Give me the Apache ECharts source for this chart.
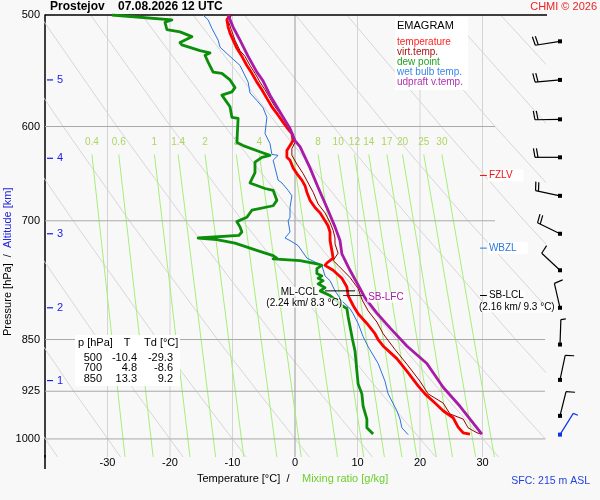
<!DOCTYPE html>
<html>
<head>
<meta charset="utf-8">
<script src="https://cdn.jsdelivr.net/npm/echarts@6/dist/echarts.min.js"></script>
<style>
  html, body { margin: 0; padding: 0; background: #f8f8f8; }
  #chart { width: 600px; height: 500px; }
</style>
</head>
<body>
<div id="chart"></div>
<script>
// Emagram, Prostejov 07.08.2026 12 UTC. Profiles are [pressure hPa, temperature °C].
const pLevels = [500, 600, 700, 850, 925, 1000];
const isoT = [-30, -20, -10, 0, 10, 20, 30];

const temperature = [[500,-10.4],[504,-10.9],[510,-10.7],[515,-10.4],[521,-9.9],[528,-9.3],[535,-8.5],[543,-7.7],[550,-6.9],[558,-6.1],[565,-5.3],[573,-4.5],[581,-3.7],[589,-2.7],[596,-1.9],[601,-1.3],[607,-0.5],[614,-0.3],[619,-0.8],[624,-1.3],[631,-1.3],[634,-0.8],[642,-0.3],[650,0.5],[655,1.1],[661,1.6],[668,1.9],[677,2.4],[685,3.2],[691,4.0],[700,4.8],[706,5.3],[713,5.6],[723,5.6],[735,5.9],[744,6.1],[750,5.1],[753,4.8],[759,6.1],[769,7.5],[780,8.3],[791,8.5],[804,9.3],[815,10.1],[828,11.5],[842,12.8],[850,13.3],[859,14.1],[877,16.3],[895,17.9],[917,19.7],[929,20.8],[943,22.4],[955,23.7],[966,25.3],[981,26.1],[990,26.9],[992,28.0]];

const virtTemp = [[500,-10.2],[506,-10.6],[512,-10.2],[521,-9.6],[530,-8.8],[535,-8.0],[543,-7.2],[550,-6.4],[558,-5.6],[565,-4.8],[573,-4.0],[581,-3.2],[589,-2.2],[596,-1.4],[601,-0.8],[609,-0.3],[616,0.0],[622,-0.5],[629,-0.5],[638,0.3],[648,1.3],[658,2.1],[668,2.9],[681,3.7],[691,4.8],[702,5.6],[711,6.1],[720,6.4],[727,6.4],[738,6.9],[747,6.1],[753,6.9],[768,8.8],[782,10.1],[796,10.7],[811,11.7],[826,13.1],[842,14.1],[864,16.0],[885,17.9],[910,20.0],[929,21.3],[943,23.7],[960,24.8],[968,26.9],[982,27.7],[990,29.1],[992,29.9]];

const dewPoint = [[500,-29.3],[504,-19.7],[506,-20.8],[512,-20.5],[514,-18.4],[518,-16.5],[523,-18.4],[525,-18.1],[530,-15.2],[532,-13.6],[534,-14.4],[540,-13.9],[549,-13.1],[550,-11.7],[556,-10.4],[563,-9.6],[567,-10.1],[570,-11.7],[581,-10.4],[591,-10.1],[592,-9.1],[616,-9.3],[619,-8.3],[626,-5.3],[629,-4.0],[631,-5.3],[636,-6.4],[647,-6.4],[658,-7.2],[664,-4.8],[666,-3.5],[677,-2.9],[683,-3.5],[688,-6.9],[696,-7.7],[701,-9.3],[707,-8.8],[713,-8.5],[717,-9.0],[720,-15.5],[722,-12.5],[726,-9.6],[735,-6.0],[741,-3.5],[744,-2.9],[745,-3.5],[747,0.8],[751,3.5],[753,4.3],[757,3.5],[763,3.5],[766,4.3],[769,3.7],[772,4.5],[776,3.7],[781,4.8],[785,4.0],[791,5.6],[798,6.7],[804,7.5],[808,8.3],[819,8.5],[832,8.8],[850,9.2],[866,9.6],[895,9.9],[914,10.1],[929,10.7],[948,10.9],[968,11.5],[982,11.5],[992,12.5]];

const wetBulb = [[500,-14.7],[504,-13.9],[511,-13.3],[521,-12.3],[527,-12.0],[535,-10.4],[543,-8.8],[558,-7.5],[568,-7.2],[575,-6.1],[582,-5.1],[591,-4.5],[607,-4.8],[617,-4.0],[628,-3.7],[629,-2.7],[634,-3.5],[655,-2.7],[658,-2.1],[666,-1.1],[672,-0.5],[685,-0.8],[696,-0.8],[700,-1.1],[713,-0.8],[720,-1.6],[723,-0.8],[729,0.5],[744,1.9],[750,3.5],[753,4.3],[766,4.8],[772,5.6],[785,6.4],[798,7.5],[808,8.8],[815,9.3],[828,10.1],[846,10.9],[860,11.7],[884,13.3],[910,14.4],[929,14.9],[955,16.3],[968,16.8],[982,17.1],[993,18.1]];

const updraft = [[500,-10.7],[510,-9.9],[521,-8.8],[535,-7.5],[549,-6.1],[557,-5.1],[570,-4.0],[581,-2.9],[591,-1.9],[602,-0.8],[614,0.0],[620,0.8],[642,2.4],[663,3.7],[685,5.1],[707,6.4],[723,7.2],[739,7.5],[759,8.8],[782,10.4],[794,11.2],[814,13.1],[834,15.2],[859,17.9],[884,21.1],[919,23.7],[948,26.4],[992,29.9]];

// dry adiabats: temperature at adiabatP levels, one row per line
const adiabatP = [1030, 925, 850, 700, 600, 500];
const adiabatT = [
  [-38.0,-45.1,-50.6,-62.6,-71.7,-81.9],
  [-27.9,-35.4,-41.0,-53.6,-63.0,-73.7],
  [-17.9,-25.6,-31.5,-44.6,-54.4,-65.5],
  [-7.8,-15.8,-22.0,-35.5,-45.8,-57.3],
  [2.3,-6.0,-12.4,-26.5,-37.1,-49.1],
  [12.4,3.8,-2.9,-17.5,-28.5,-40.9],
  [22.5,13.5,6.7,-8.4,-19.9,-32.7],
  [32.6,23.3,16.2,0.6,-11.2,-24.5],
  [42.7,33.1,25.8,9.6,-2.6,-16.3],
  [52.7,42.9,35.3,18.7,6.1,-8.1],
  [62.8,52.7,44.9,27.7,14.7,0.1],
  [72.9,62.4,54.4,36.7,23.4,8.3],
  [83.0,72.2,64.0,45.7,32.0,16.5],
  [93.1,82.0,73.5,54.8,40.6,24.7],
  [103.1,91.8,83.1,63.8,49.3,32.9]
];

// saturation mixing ratio lines [g/kg]: temperature at top (628 hPa) and bottom (1030 hPa)
const mixW = [0.4, 0.6, 1, 1.4, 2, 3, 4, 6, 8, 10, 12, 14, 17, 20, 25, 30];
const mixTopT = [-32.5,-28.2,-22.5,-18.7,-14.4,-9.4,-5.7,-0.3,3.7,6.9,9.5,11.8,14.7,17.2,20.6,23.5];
const mixBotT = [-27.2,-22.7,-16.8,-12.7,-8.2,-2.9,1.0,6.8,11.0,14.3,17.1,19.5,22.6,25.2,28.9,31.9];
const mixTopP = 628, mixBotP = 1030, mixLabelP = 616;

// altitude marks [km] and their pressure
const altKm = [1, 2, 3, 4, 5];
const altP = [909, 807, 715, 632, 556];

// wind profile
const windP = [522, 556, 593, 631, 672, 715, 759, 807, 857, 908, 963, 993];
const windDir = [261, 265, 269, 270, 282, 296, 313, 347, 2, 12, 14, 32];
const windKt = [20, 20, 20, 20, 20, 20, 10, 10, 5, 10, 10, 5];

// level annotations
const annText = ['FZLV', 'WBZL', 'SB-LCL', 'ML-CCL', 'SB-LFC'];
const annSub = ['', '', '(2.16 km/ 9.3 °C)', '(2.24 km/ 8.3 °C)', ''];
const annP = [650, 732, 791, 785, 791];
const annT0 = [29.6, 29.6, 29.6, 4.8, 7.7];
const annT1 = [30.7, 30.7, 30.7, 9.6, 10.9];

// table
const tableP = [500, 700, 850];
const tableT = [-10.4, 4.8, 13.3];
const tableTd = [-29.3, -8.6, 9.2];

const legendNames = ['temperature', 'virt.temp.', 'dew point', 'wet bulb temp.', 'udpraft v.temp.'];

const FONT = '"Liberation Sans", Arial, Helvetica, sans-serif';
const C = {
  temp: '#ff0000', virt: '#990000', dew: '#0b8f0b', wet: '#2a72dd', upd: '#a81aa8',
  mix: '#a5ef78', mixLabel: '#9acd3a', adiabat: '#d2d2d2', iso: '#d4d4d4', press: '#a9a9a9',
  alt: '#1a1aee'
};

const chart = echarts.init(document.getElementById('chart'), null, { renderer: 'canvas' });

function bgLine(data, color, width, extra) {
  return Object.assign({
    type: 'line', data, symbol: 'none', silent: true, z: 1,
    lineStyle: { color, width }, animation: false
  }, extra || {});
}

function profile(name, pts, color, width, z) {
  return {
    type: 'line', name, data: pts.map(d => [d[1], d[0]]), symbol: 'none', silent: true,
    z, lineStyle: { color, width, join: 'round' }, animation: false
  };
}

function font(size, weight) { return (weight || 'normal') + ' ' + size + 'px ' + FONT; }

function txtStyle(text, color, size, align, vAlign, weight) {
  return {
    text, fill: color, font: font(size, weight),
    textAlign: align, align: align,
    textVerticalAlign: vAlign || 'middle', verticalAlign: vAlign || 'middle'
  };
}

function renderBarb(params, api) {
  const pt = api.coord([api.value(0), api.value(1)]);
  const dir = api.value(2) * Math.PI / 180;
  const kt = api.value(3);
  const color = params.dataIndex === windP.length - 1 ? '#1133ee' : '#000';
  const vx = Math.sin(dir), vy = -Math.cos(dir);
  const L = 25;
  const ex = pt[0] + vx * L, ey = pt[1] + vy * L;
  const tilt = 10 * Math.PI / 180;
  const bx = -vy * Math.cos(tilt) + vx * Math.sin(tilt);
  const by = vx * Math.cos(tilt) + vy * Math.sin(tilt);
  const kids = [
    { type: 'line', shape: { x1: pt[0], y1: pt[1], x2: ex, y2: ey }, style: { stroke: color, lineWidth: 1.2 } },
    { type: 'rect', shape: { x: pt[0] - 2, y: pt[1] - 2, width: 4, height: 4 }, style: { fill: color } }
  ];
  let pos = 0;
  for (let k = 0; k < Math.floor(kt / 10); k++) {
    const sx = ex - vx * pos, sy = ey - vy * pos;
    kids.push({ type: 'line', shape: { x1: sx, y1: sy, x2: sx + bx * 9, y2: sy + by * 9 }, style: { stroke: color, lineWidth: 1.2 } });
    pos += 3;
  }
  if (kt % 10 >= 5) {
    const sx = ex - vx * pos, sy = ey - vy * pos;
    kids.push({ type: 'line', shape: { x1: sx, y1: sy, x2: sx + bx * 5, y2: sy + by * 5 }, style: { stroke: color, lineWidth: 1.2 } });
  }
  return { type: 'group', children: kids };
}

const annColor = ['#ee1111', '#2a7ae2', '#000', '#000', '#a81aa8'];
const annLine = ['#ee1111', '#2a7ae2', '#000', '#000', '#333'];

function renderAnn(params, api) {
  const i = api.value(3);
  const a = api.coord([api.value(0), api.value(2)]);
  const b = api.coord([api.value(1), api.value(2)]);
  const kids = [{ type: 'line', shape: { x1: a[0], y1: a[1], x2: b[0], y2: b[1] }, style: { stroke: annLine[i], lineWidth: 1 } }];
  let main, sub = null;
  if (i === 3) {
    main = { x: a[0] - 6, y: a[1] + 1, align: 'right' };
    sub = { x: a[0] + 18, y: a[1] + 12, align: 'right' };
  } else if (i === 4) {
    main = { x: b[0] + 4, y: b[1] + 2, align: 'left' };
  } else {
    main = { x: b[0] + 1, y: b[1], align: 'left' };
    sub = { x: a[0] - 2, y: a[1] + 12, align: 'left' };
  }
  const ms = txtStyle(annText[i], annColor[i], 10, main.align);
  if (i < 2) { ms.backgroundColor = '#ffffff'; ms.padding = [1, 11, 1, 1]; }
  else { ms.backgroundColor = 'rgba(255,255,255,0.75)'; ms.padding = [0, 1]; }
  kids.push({ type: 'text', x: main.x, y: main.y, style: ms });
  if (sub && annSub[i]) {
    const ss = txtStyle(annSub[i], annColor[i], 10, sub.align);
    ss.backgroundColor = 'rgba(255,255,255,0.75)'; ss.padding = [0, 1];
    kids.push({ type: 'text', x: sub.x, y: sub.y, style: ss });
  }
  return { type: 'group', children: kids };
}

function renderAlt(params, api) {
  const pt = api.coord([-40, api.value(0)]);
  return {
    type: 'group', children: [
      { type: 'line', shape: { x1: pt[0] + 2, y1: pt[1], x2: pt[0] + 8, y2: pt[1] }, style: { stroke: C.alt, lineWidth: 1.2 } },
      { type: 'text', x: pt[0] + 12, y: pt[1], style: txtStyle(String(api.value(1)), C.alt, 11, 'left') }
    ]
  };
}

const series = [];
// dry adiabats
adiabatT.forEach(row => series.push(bgLine(adiabatP.map((p, i) => [row[i], p]), C.adiabat, 0.9)));
// isotherms
isoT.forEach(t => series.push(bgLine([[t, 500], [t, 1030]], t === 0 ? '#9a9a9a' : C.iso, 1)));
// mixing ratio lines
mixW.forEach((w, i) => series.push(bgLine([[mixTopT[i], mixTopP], [mixBotT[i], mixBotP]], C.mix, 1, { z: 2 })));
// pressure lines
pLevels.forEach(p => {
  if (p === 500) series.push(bgLine([[-40, p], [47, p]], '#000', 1.5, { clip: false, z: 4 }));
  else series.push(bgLine([[-40, p], [p < 800 ? 32 : 40, p]], C.press, 1, { z: 2 }));
});
// mixing ratio labels
series.push({
  type: 'scatter', silent: true, symbolSize: 0, z: 3, animation: false,
  data: mixW.map((w, i) => [mixTopT[i], mixLabelP, w]),
  label: { show: true, position: 'inside', formatter: p => String(p.value[2]), color: C.mixLabel, fontSize: 10, fontFamily: FONT }
});
// altitude marks
series.push({
  type: 'custom', silent: true, z: 3, animation: false,
  data: altP.map((p, i) => [p, altKm[i]]), encode: { y: 0 }, renderItem: renderAlt
});
// profiles
series.push(profile('wet bulb temp.', wetBulb, C.wet, 1, 5));
series.push(profile('dew point', dewPoint, C.dew, 2.8, 6));
series.push(profile('temperature', temperature, C.temp, 2.8, 6));
series.push(profile('virt.temp.', virtTemp, C.virt, 1, 7));
series.push(profile('udpraft v.temp.', updraft, C.upd, 2.8, 7));
// level annotations
series.push({
  type: 'custom', silent: true, z: 8, animation: false,
  data: annP.map((p, i) => [annT0[i], annT1[i], p, i]), encode: { x: [0, 1], y: 2 }, renderItem: renderAnn
});
// wind barbs
series.push({
  type: 'custom', silent: true, z: 8, animation: false, xAxisIndex: 1, yAxisIndex: 1,
  data: windP.map((p, i) => [0.5, p, windDir[i], windKt[i]]), encode: { x: 0, y: 1 }, renderItem: renderBarb
});

// graphic texts
const graphic = [];
function gText(x, y, text, color, size, align, weight, extra) {
  graphic.push(Object.assign({ type: 'text', x, y, z: 101, silent: true, style: txtStyle(text, color, size, align, 'middle', weight) }, extra || {}));
}
gText(50, 7, 'Prostejov    07.08.2026 12 UTC', '#000', 12, 'left', 'bold');
gText(597, 7, 'CHMI © 2026', '#ee2222', 11, 'right');
gText(590, 481, 'SFC: 215 m ASL', '#2244dd', 10.5, 'right');
gText(197, 479, 'Temperature [°C]  /', '#000', 11, 'left');
gText(302, 479, 'Mixing ratio [g/kg]', '#6ccf2c', 11, 'left');
graphic.push({
  type: 'text', x: 8, y: 336, rotation: Math.PI / 2, z: 101, silent: true,
  style: {
    text: '{a|Pressure [hPa]  /  }{b|Altitude [km]}', font: font(11),
    textAlign: 'left', align: 'left', textVerticalAlign: 'middle', verticalAlign: 'middle',
    rich: { a: { fill: '#000', font: font(11) }, b: { fill: '#2222dd', font: font(11) } }
  }
});
// legend box
graphic.push({ type: 'rect', z: 100, silent: true, shape: { x: 395, y: 17, width: 73, height: 73 }, style: { fill: '#ffffff' } });
gText(397, 26, 'EMAGRAM', '#000', 11, 'left');
const legendColors = ['#ff2222', '#aa1111', '#22a022', '#3a86ee', '#b030b0'];
legendNames.forEach((n, i) => gText(397, 42 + i * 10, n, legendColors[i], 10, 'left'));
// table box
graphic.push({ type: 'rect', z: 100, silent: true, shape: { x: 75, y: 335, width: 105, height: 51 }, style: { fill: '#ffffff' } });
gText(78, 343, 'p [hPa]', '#000', 11, 'left');
gText(127, 343, 'T', '#000', 11, 'center');
gText(144, 343, 'Td [°C]', '#000', 11, 'left');
tableP.forEach((p, i) => {
  const y = 358 + i * 10.4;
  gText(102, y, String(p), '#000', 11, 'right');
  gText(137, y, tableT[i].toFixed(1), '#000', 11, 'right');
  gText(173, y, tableTd[i].toFixed(1), '#000', 11, 'right');
});
// left axis extends a little below the grid
graphic.push({ type: 'line', z: 100, silent: true, shape: { x1: 45, y1: 455, x2: 45, y2: 469 }, style: { stroke: '#000', lineWidth: 1.5 } });

const option = {
  backgroundColor: '#f8f8f8',
  animation: false,
  textStyle: { fontFamily: FONT },
  grid: [
    { left: 45, top: 15, width: 500, bottom: 43 },
    { left: 540, top: 15, width: 40, bottom: 43 }
  ],
  xAxis: [
    {
      type: 'value', gridIndex: 0, min: -40, max: 40, interval: 10,
      axisLine: { show: false }, axisTick: { show: false }, splitLine: { show: false },
      axisLabel: { customValues: isoT, margin: 0, color: '#000', fontSize: 11, fontFamily: FONT }
    },
    { type: 'value', gridIndex: 1, min: 0, max: 1, show: false }
  ],
  yAxis: [
    {
      type: 'log', logBase: 10, gridIndex: 0, min: 500, max: 1030, inverse: true,
      axisLine: { show: true, onZero: false, lineStyle: { color: '#000', width: 1.5 } },
      axisTick: { show: false }, splitLine: { show: false }, minorSplitLine: { show: false },
      axisLabel: { customValues: pLevels, margin: 5, color: '#000', fontSize: 11, fontFamily: FONT, formatter: v => String(Math.round(v)) }
    },
    { type: 'log', logBase: 10, gridIndex: 1, min: 500, max: 1030, inverse: true, show: false }
  ],
  graphic,
  series
};
chart.setOption(option);
</script>
</body>
</html>
